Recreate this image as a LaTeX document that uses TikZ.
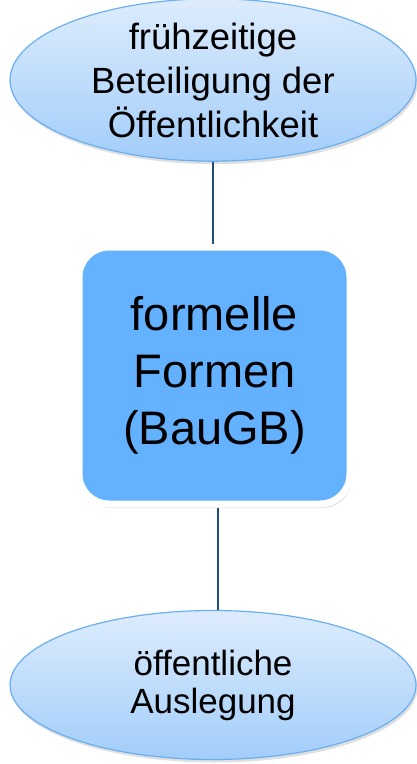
\documentclass[tikz,border=0pt]{standalone}
\usepackage{fontspec}
\setmainfont{Liberation Sans}
\usetikzlibrary{shapes.geometric,shadows}
\definecolor{ellTop}{HTML}{DDECFC}
\definecolor{ellBot}{HTML}{A2CDFA}
\definecolor{ellLine}{HTML}{69AFF2}
\definecolor{boxFill}{HTML}{63B1FF}
\definecolor{connCol}{HTML}{1F4E79}
\tikzset{
  ellnode/.style={ellipse, draw=ellLine, line width=1.2pt, top color=ellTop, bottom color=ellBot,
    minimum width=406pt, minimum height=149pt, inner sep=0pt, align=center,
    drop shadow={opacity=0.25, shadow xshift=1.5pt, shadow yshift=-3pt}},
  boxnode/.style={draw=white, line width=7pt, fill=boxFill, rounded corners=30pt,
    minimum width=271pt, minimum height=257pt, inner sep=0pt, align=center,
    drop shadow={opacity=0.3, shadow xshift=2pt, shadow yshift=-4pt}},
  conn/.style={draw=connCol, line width=1.5pt}
}
\begin{document}
\begin{tikzpicture}[x=1pt,y=-1pt]
\useasboundingbox (0,0) rectangle (417,764);
\node[ellnode, font=\fontsize{36.5}{44}\selectfont] (top) at (213,80) {frühzeitige\\Beteiligung der\\Öffentlichkeit};
\node[boxnode, font=\fontsize{47}{57}\selectfont] (box) at (214.5,375.5) {formelle\\Formen\\(BauGB)};
\node[ellnode, font=\fontsize{35}{38}\selectfont] (bot) at (213,685) {öffentliche\\Auslegung};
\draw[conn] (top.south) -- (top.south |- box.north);
\draw[conn] ([xshift=3.5pt]box.south) -- ([xshift=3.5pt]box.south |- bot.north);
\end{tikzpicture}
\end{document}
